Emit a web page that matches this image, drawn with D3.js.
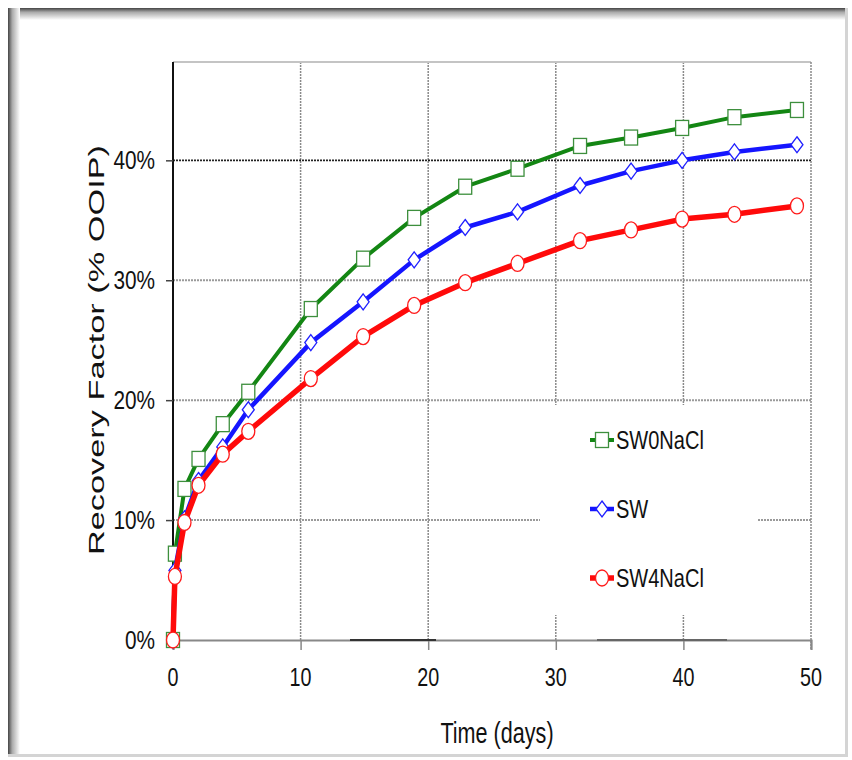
<!DOCTYPE html>
<html>
<head>
<meta charset="utf-8">
<script src="https://cdn.jsdelivr.net/npm/d3@7"></script>
<style>
  html, body { margin: 0; padding: 0; background: #fff; }
  svg { display: block; }
</style>
</head>
<body>
<svg id="chart" width="852" height="760"></svg>
<script>
// Recovery factor (% OOIP) versus imbibition time for three brines
const days        = [0, 0.15, 0.9, 2, 3.9, 5.9, 10.8, 14.9, 18.9, 22.9, 27, 31.9, 35.9, 39.9, 44, 48.9];
const sw0NaCl     = [0, 7.2, 12.6, 15.1, 18.0, 20.7, 27.6, 31.8, 35.2, 37.8, 39.3, 41.2, 41.9, 42.7, 43.6, 44.2];
const sw          = [0, 5.8, 10.1, 13.3, 16.1, 19.2, 24.8, 28.2, 31.7, 34.4, 35.7, 37.9, 39.1, 40.0, 40.7, 41.3];
const sw4NaCl     = [0, 5.3, 9.8, 12.9, 15.5, 17.4, 21.8, 25.3, 27.9, 29.8, 31.4, 33.3, 34.2, 35.1, 35.5, 36.2];
const seriesNames = ["SW0NaCl", "SW", "SW4NaCl"];
const xTicks      = [0, 10, 20, 30, 40, 50];
const yTicks      = [0, 10, 20, 30, 40];

const svg = d3.select("#chart");
const defs = svg.append("defs");

// picture frame with a soft inner shadow on the top and left edges
const gTop = defs.append("linearGradient").attr("id", "shTop").attr("x1", 0).attr("y1", 0).attr("x2", 0).attr("y2", 1);
gTop.append("stop").attr("offset", "0%").attr("stop-color", "#444");
gTop.append("stop").attr("offset", "35%").attr("stop-color", "#aaa");
gTop.append("stop").attr("offset", "100%").attr("stop-color", "#fff");
const gLeft = defs.append("linearGradient").attr("id", "shLeft").attr("x1", 0).attr("y1", 0).attr("x2", 1).attr("y2", 0);
gLeft.append("stop").attr("offset", "0%").attr("stop-color", "#444");
gLeft.append("stop").attr("offset", "35%").attr("stop-color", "#aaa");
gLeft.append("stop").attr("offset", "100%").attr("stop-color", "#fff");

svg.append("rect").attr("x", 8).attr("y", 8).attr("width", 840).attr("height", 748).attr("fill", "#fff");
svg.append("rect").attr("x", 8).attr("y", 8).attr("width", 840).attr("height", 12).attr("fill", "url(#shTop)");
svg.append("rect").attr("x", 8).attr("y", 8).attr("width", 12).attr("height", 748).attr("fill", "url(#shLeft)");
svg.append("rect").attr("x", 845).attr("y", 8).attr("width", 3).attr("height", 749).attr("fill", "#d4d4d4");
svg.append("rect").attr("x", 8).attr("y", 754).attr("width", 840).attr("height", 3).attr("fill", "#d4d4d4");

// scales
const x = d3.scaleLinear().domain([0, 50]).range([173, 811]);
const y = d3.scaleLinear().domain([0, 48.2]).range([640, 62]);

const font = "Arial, 'Liberation Sans', Helvetica, sans-serif";

// condensed text helper
function ctext(g, tx, ty, str, size, anchor, sx) {
  return g.append("text")
    .attr("transform", `translate(${tx},${ty}) scale(${sx},1)`)
    .attr("text-anchor", anchor)
    .attr("dominant-baseline", "central")
    .attr("font-family", font)
    .attr("font-size", size)
    .attr("fill", "#111")
    .text(str);
}

const plot = svg.append("g");

// vertical grid
plot.selectAll(".vg").data(xTicks.filter(d => d > 0 && d < 50)).enter().append("line")
  .attr("x1", d => x(d)).attr("x2", d => x(d))
  .attr("y1", y(48.2)).attr("y2", y(0))
  .attr("stroke", "#8a8a8a").attr("stroke-width", 1.5).attr("stroke-dasharray", "2,1");

// horizontal grid
plot.selectAll(".hg").data(yTicks.filter(d => d > 0)).enter().append("line")
  .attr("x1", x(0)).attr("x2", x(50))
  .attr("y1", d => y(d)).attr("y2", d => y(d))
  .attr("stroke", d => d === 40 ? "#222" : "#9a9a9a")
  .attr("stroke-width", d => d === 40 ? 1.6 : 2)
  .attr("stroke-dasharray", "2,1");

// legend box (white, hides the grid behind it)
const lg = svg.append("g");
lg.append("rect").attr("x", 540).attr("y", 405).attr("width", 217).attr("height", 210).attr("fill", "#fff");

// plot frame: top and right borders
plot.append("line").attr("x1", x(0)).attr("x2", x(50)).attr("y1", y(48.2)).attr("y2", y(48.2))
  .attr("stroke", "#c4c4c4").attr("stroke-width", 2);
plot.append("line").attr("x1", x(50)).attr("x2", x(50)).attr("y1", y(48.2)).attr("y2", y(0) + 10)
  .attr("stroke", "#8a8a8a").attr("stroke-width", 1.5).attr("stroke-dasharray", "2,1");

// x axis
const xAxis = d3.axisBottom(x).tickValues(xTicks).tickSize(10).tickFormat("");
const xa = svg.append("g").attr("transform", `translate(0,${y(0)})`).call(xAxis);
xa.select(".domain").attr("stroke", "#888").attr("stroke-width", 2);
xa.selectAll(".tick line").attr("stroke", "#888").attr("stroke-width", 1.5);
// darker stretches along the baseline
xa.append("line").attr("x1", 350).attr("x2", 436).attr("y1", 0).attr("y2", 0).attr("stroke", "#333").attr("stroke-width", 2);
xa.append("line").attr("x1", 597).attr("x2", 727).attr("y1", 0).attr("y2", 0).attr("stroke", "#666").attr("stroke-width", 2);
xTicks.forEach(t => ctext(svg, x(t), 677, String(t), 26, "middle", 0.76));

// y axis
const yAxis = d3.axisLeft(y).tickValues(yTicks).tickSize(7).tickFormat("");
const ya = svg.append("g").attr("transform", `translate(${x(0)},0)`).call(yAxis);
ya.select(".domain").attr("stroke", "#111").attr("stroke-width", 2).attr("d", `M0,${y(48.2)}V${y(0)}`);
ya.selectAll(".tick line").attr("stroke", "#444").attr("stroke-width", 1.5);
yTicks.forEach(t => ctext(svg, 155, y(t), t + "%", 26, "end", 0.8));

// axis titles
svg.append("text")
  .attr("transform", `translate(96,350) rotate(-90)`)
  .attr("text-anchor", "middle")
  .attr("dominant-baseline", "central")
  .attr("font-family", font)
  .attr("font-size", 22)
  .attr("fill", "#111")
  .attr("textLength", 410)
  .attr("lengthAdjust", "spacingAndGlyphs")
  .text("Recovery Factor (% OOIP)");
ctext(svg, 497, 733, "Time (days)", 30, "middle", 0.72);

// series
const series = [
  { name: seriesNames[0], values: sw0NaCl, color: "#138613", stroke: "#3d8f3d", width: 4, shape: "square" },
  { name: seriesNames[1], values: sw,      color: "#1515ff", stroke: "#2020ff", width: 4.5, shape: "diamond" },
  { name: seriesNames[2], values: sw4NaCl, color: "#ff0a0a", stroke: "#ff1a1a", width: 5.5, shape: "circle" }
];

function marker(g, shape, cx, cy, stroke) {
  if (shape === "square") {
    g.append("rect").attr("x", cx - 6.5).attr("y", cy - 7.5).attr("width", 13).attr("height", 15)
      .attr("fill", "#fff").attr("stroke", stroke).attr("stroke-width", 1.3);
  } else if (shape === "diamond") {
    g.append("path").attr("d", `M${cx},${cy - 8}L${cx + 6},${cy}L${cx},${cy + 8}L${cx - 6},${cy}Z`)
      .attr("fill", "#fff").attr("stroke", stroke).attr("stroke-width", 1.3);
  } else {
    g.append("ellipse").attr("cx", cx).attr("cy", cy).attr("rx", 6.5).attr("ry", 8)
      .attr("fill", "#fff").attr("stroke", stroke).attr("stroke-width", 1.3);
  }
}

const line = d3.line().x(d => x(d[0])).y(d => y(d[1]));
series.forEach(s => {
  const pts = days.map((d, i) => [d, s.values[i]]);
  const g = svg.append("g");
  g.append("path").attr("d", line(pts)).attr("fill", "none")
    .attr("stroke", s.color).attr("stroke-width", s.width).attr("stroke-linejoin", "round");
  pts.forEach(p => marker(g, s.shape, x(p[0]), y(p[1]), s.stroke));
});

// legend entries
const legendY = [440, 509, 578];
series.forEach((s, i) => {
  const ly = legendY[i];
  lg.append("line").attr("x1", 590).attr("x2", 614).attr("y1", ly).attr("y2", ly)
    .attr("stroke", s.color).attr("stroke-width", s.width);
  marker(lg, s.shape, 602, ly, s.stroke);
  ctext(lg, 616, ly, s.name, 26, "start", 0.77);
});
</script>
</body>
</html>
